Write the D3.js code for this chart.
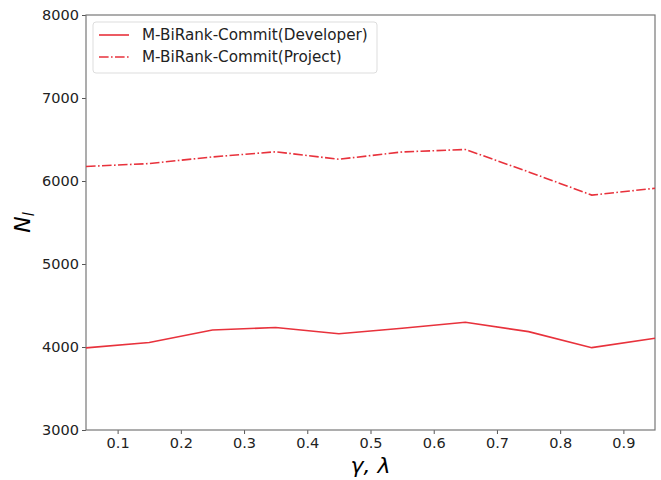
<!DOCTYPE html>
<html>
<head>
<meta charset="utf-8">
<script src="https://cdn.jsdelivr.net/npm/d3@7"></script>
<style>
  body { margin: 0; background: #fff; }
  text { font-family: "DejaVu Sans", sans-serif; }
</style>
</head>
<body>
<div id="chart"></div>
<script>
// data
const xs = [0.05, 0.15, 0.25, 0.35, 0.45, 0.55, 0.65, 0.75, 0.85, 0.95];
const developer = [3990, 4055, 4205, 4235, 4160, 4225, 4298, 4185, 3992, 4105];
const project = [6175, 6210, 6290, 6352, 6262, 6350, 6380, 6110, 5830, 5912];
const xTicks = [0.1, 0.2, 0.3, 0.4, 0.5, 0.6, 0.7, 0.8, 0.9];
const yTicks = [3000, 4000, 5000, 6000, 7000, 8000];
const seriesNames = ["M-BiRank-Commit(Developer)", "M-BiRank-Commit(Project)"];

const W = 661, H = 480;
const m = {left: 86, right: 6, top: 15, bottom: 50};
const red = "#e8323c";

const svg = d3.select("#chart").append("svg")
  .attr("width", W).attr("height", H);

const x = d3.scaleLinear().domain([0.05, 0.95]).range([m.left, W - m.right]);
const y = d3.scaleLinear().domain([3000, 8000]).range([H - m.bottom, m.top]);

// axes
const xAxis = svg.append("g")
  .attr("transform", `translate(0,${H - m.bottom})`)
  .call(d3.axisBottom(x).tickValues(xTicks).tickFormat(d3.format(".1f")).tickSize(4).tickPadding(4));
const yAxis = svg.append("g")
  .attr("transform", `translate(${m.left},0)`)
  .call(d3.axisLeft(y).tickValues(yTicks).tickFormat(d => d).tickSize(4).tickPadding(3));

[xAxis, yAxis].forEach(g => {
  g.select(".domain").remove();
  g.selectAll("line").attr("stroke", "#555");
  g.selectAll("text").attr("font-size", 14.5).attr("fill", "#222")
    .style("font-family", "DejaVu Sans, sans-serif");
});

// frame
svg.append("rect")
  .attr("x", m.left).attr("y", m.top)
  .attr("width", W - m.left - m.right).attr("height", H - m.top - m.bottom)
  .attr("fill", "none").attr("stroke", "#777").attr("stroke-width", 1.2);

// lines
const line = d3.line().x((d, i) => x(xs[i])).y(d => y(d));

svg.append("path").datum(developer)
  .attr("d", line).attr("fill", "none")
  .attr("stroke", red).attr("stroke-width", 1.6);

svg.append("path").datum(project)
  .attr("d", line).attr("fill", "none")
  .attr("stroke", red).attr("stroke-width", 1.6)
  .attr("stroke-dasharray", "9.6,2.4,1.6,2.4");

// axis labels
svg.append("text")
  .attr("x", x(0.5)).attr("y", 473)
  .attr("text-anchor", "middle")
  .attr("font-size", 22).attr("font-style", "italic")
  .text("γ, λ");

const yl = svg.append("text")
  .attr("transform", `translate(30,${y(5500)}) rotate(-90)`)
  .attr("text-anchor", "middle")
  .attr("font-size", 22).attr("font-style", "italic");
yl.append("tspan").text("N");
yl.append("tspan").attr("font-size", 15).attr("dy", 4).text("l");

// legend
const lg = svg.append("g").attr("transform", "translate(93,22)");
lg.append("rect")
  .attr("width", 284).attr("height", 51).attr("rx", 3)
  .attr("fill", "#fff").attr("stroke", "#ddd");
seriesNames.forEach((name, i) => {
  const yy = 13 + i * 22;
  lg.append("line")
    .attr("x1", 6).attr("x2", 36).attr("y1", yy).attr("y2", yy)
    .attr("stroke", red).attr("stroke-width", 1.6)
    .attr("stroke-dasharray", i === 1 ? "9.6,2.4,1.6,2.4" : null);
  lg.append("text")
    .attr("x", 49).attr("y", yy + 5)
    .attr("font-size", 15.2).attr("fill", "#222")
    .text(name);
});
</script>
</body>
</html>
